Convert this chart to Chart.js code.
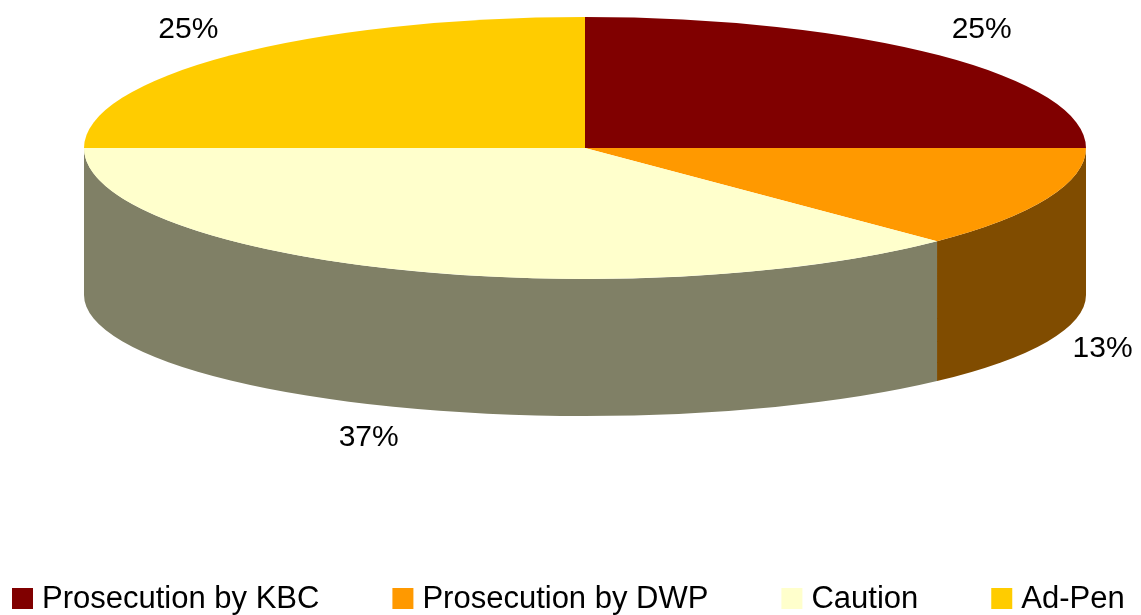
<!DOCTYPE html>
<html lang="en">
  <head>
    <meta charset="UTF-8" />
    <title>Outcomes - 3D Pie</title>
    <style>
      body {
        margin: 0;
        background: #fff;
      }
      .wrap {
        width: 1141px;
        height: 615px;
        position: relative;
      }
    </style>
    <script src="https://cdn.jsdelivr.net/npm/chart.js"></script>
  </head>
  <body>
    <div class="wrap"><canvas id="pieChart"></canvas></div>

    <script>
      const labels = ["Prosecution by KBC", "Prosecution by DWP", "Caution", "Ad-Pen"];
      const values = [25, 12.6, 37.4, 25];
      const topColors = ["#800000", "#FF9900", "#FFFFCC", "#FFCC00"];
      const sideColors = ["#400000", "#804C00", "#808066", "#806600"];

      // where the flattened pie sits on the page
      const CX = 585, CY = 148, RX = 501, RY = 131;
      const DEPTH = 147, RY_BOTTOM = 121;
      const FONT = 'Arial, "Liberation Sans", sans-serif';

      const pie3d = {
        id: "pie3d",
        beforeDatasetsDraw(chart) {
          const ctx = chart.ctx;
          const arcs = chart.getDatasetMeta(0).data;
          const first = arcs[0];

          // side walls, only the front half (0..PI) is visible
          arcs.forEach((arc, i) => {
            const a = Math.max(arc.startAngle, 0);
            const b = Math.min(arc.endAngle, Math.PI);
            if (b <= a) return;
            ctx.beginPath();
            ctx.ellipse(CX, CY, RX, RY, 0, a, b);
            ctx.ellipse(CX, CY + DEPTH, RX, RY_BOTTOM, 0, b, a, true);
            ctx.closePath();
            ctx.fillStyle = sideColors[i];
            ctx.fill();
          });

          // squash the pie drawn by Chart.js into the top ellipse
          ctx.save();
          ctx.translate(CX, CY);
          ctx.scale(RX / first.outerRadius, RY / first.outerRadius);
          ctx.translate(-first.x, -first.y);
        },
        afterDatasetsDraw(chart) {
          chart.ctx.restore();
        },
        afterDraw(chart) {
          const ctx = chart.ctx;
          const arcs = chart.getDatasetMeta(0).data;
          const total = values.reduce((s, v) => s + v, 0);

          // percentage labels
          ctx.save();
          ctx.fillStyle = "#000";
          ctx.font = "30px " + FONT;
          ctx.textAlign = "center";
          ctx.textBaseline = "middle";
          arcs.forEach((arc, i) => {
            const mid = (arc.startAngle + arc.endAngle) / 2;
            const s = Math.sin(mid);
            const lx = CX + Math.cos(mid) * 561;
            const ly = CY + s * 167 + (s > 0 ? 136 : 0);
            ctx.fillText(Math.round((values[i] / total) * 100) + "%", lx, ly);
          });

          // legend along the bottom
          ctx.font = "31px " + FONT;
          ctx.textAlign = "left";
          ctx.textBaseline = "alphabetic";
          let x = 12;
          labels.forEach((label, i) => {
            ctx.fillStyle = topColors[i];
            ctx.fillRect(x, 588, 21, 21);
            ctx.fillStyle = "#000";
            ctx.fillText(label, x + 30, 608);
            x += 30 + ctx.measureText(label).width + 73;
          });
          ctx.restore();
        },
      };

      new Chart(document.getElementById("pieChart").getContext("2d"), {
        type: "pie",
        data: {
          labels: labels,
          datasets: [
            {
              data: values,
              backgroundColor: topColors,
              borderWidth: 0,
              clip: false,
            },
          ],
        },
        options: {
          responsive: true,
          maintainAspectRatio: false,
          animation: false,
          events: [],
          plugins: {
            legend: { display: false },
            tooltip: { enabled: false },
          },
        },
        plugins: [pie3d],
      });
    </script>
  </body>
</html>
